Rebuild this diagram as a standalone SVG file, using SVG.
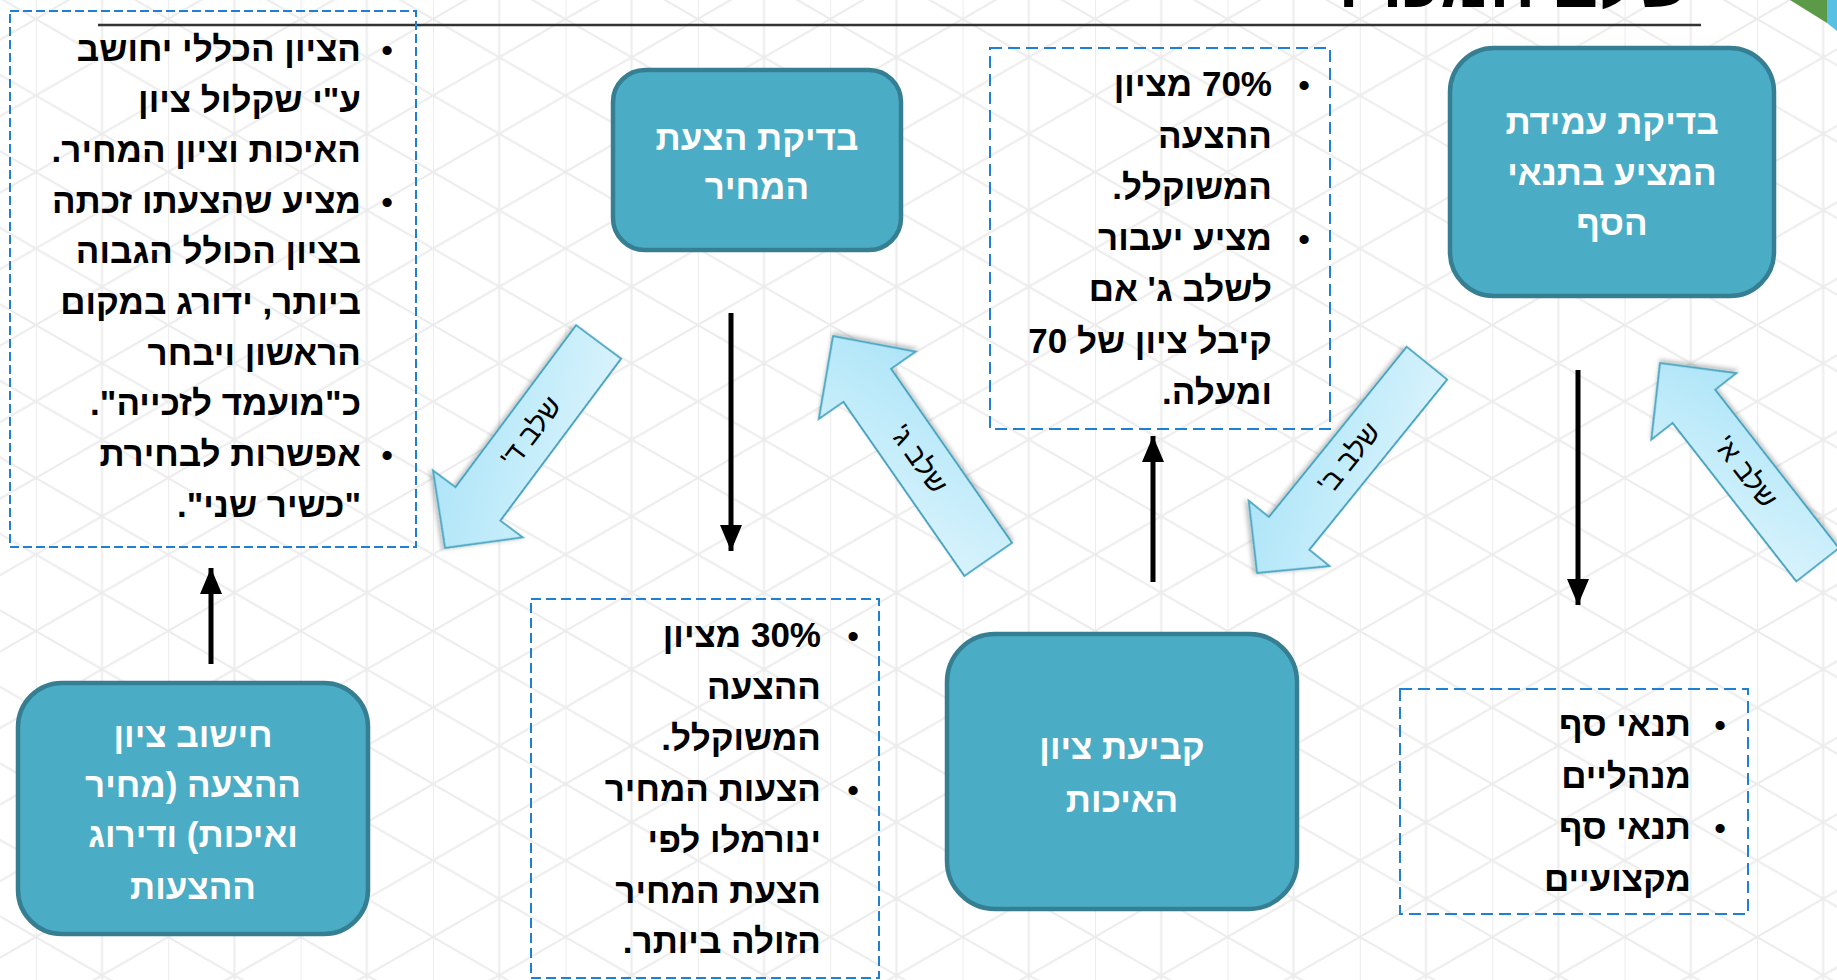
<svg xmlns="http://www.w3.org/2000/svg" width="1837" height="980" viewBox="0 0 1837 980">
<style>
.bt{font-family:"Liberation Sans","DejaVu Sans",sans-serif;font-weight:bold;font-size:35px;fill:#000;direction:rtl;text-anchor:start}
.bul{font-family:"Liberation Sans","DejaVu Sans",sans-serif;font-weight:bold;font-size:32px;fill:#000;text-anchor:middle}
.nt{font-family:"Liberation Sans","DejaVu Sans",sans-serif;font-weight:bold;font-size:35px;fill:#fff;direction:rtl;text-anchor:middle}
.at{font-family:"Liberation Sans","DejaVu Sans",sans-serif;font-size:28px;fill:#000;direction:rtl;text-anchor:middle;dominant-baseline:central}
.node{fill:#4bacc6;stroke:#367e92;stroke-width:4.5}
.dbox{fill:none;stroke:#1f7fd0;stroke-width:2}
.blk{fill:url(#bg);stroke:#4aa6c2;stroke-width:1.8;filter:url(#sh)}
.conn{stroke:#000;stroke-width:5;fill:none;marker-end:url(#ah)}
</style>
<defs>
<pattern id="grid" patternUnits="userSpaceOnUse" x="35.8" y="19" width="132.4" height="76.5">
<path d="M0 0V76.5M66.2 0V76.5M0 0L132.4 76.5M0 76.5L132.4 0" stroke="#ececec" stroke-width="2" fill="none"/>
</pattern>
<linearGradient id="bg" x1="0" y1="0" x2="1" y2="1">
<stop offset="0" stop-color="#def5fd"/>
<stop offset="1" stop-color="#a8e3f7"/>
</linearGradient>
<filter id="sh" x="-20%" y="-20%" width="140%" height="140%">
<feDropShadow dx="2" dy="2" stdDeviation="2" flood-color="#000" flood-opacity="0.25"/>
</filter>
<marker id="ah" markerUnits="userSpaceOnUse" markerWidth="30" markerHeight="26" refX="26" refY="11" orient="auto">
<path d="M0 0L26 11L0 22Z" fill="#000"/>
</marker>
</defs>
<rect width="1837" height="980" fill="#fff"/>
<rect width="1837" height="980" fill="url(#grid)"/>

<g id="title">
<line x1="98" y1="25" x2="1701" y2="25" stroke="#333" stroke-width="2.5"/>
<text x="1690" y="7" style="font-family:'Liberation Sans','DejaVu Sans',sans-serif;font-weight:bold;font-size:68px;direction:rtl;text-anchor:start" fill="#000">שלב המכרז</text>
<polygon points="1790,0 1827,0 1827,23" fill="#5b9a46"/>
<polygon points="1827,0 1837,0 1837,31 1827,23" fill="#59bfe4"/>
</g>

<g id="connectors">
<line class="conn" x1="1578" y1="370" x2="1578" y2="605"/>
<line class="conn" x1="731" y1="313" x2="731" y2="551"/>
<line class="conn" x1="1153" y1="582" x2="1153" y2="436"/>
<line class="conn" x1="211" y1="664" x2="211" y2="568"/>
<g id="arrow-a">
<path class="blk" transform="translate(1660,363) rotate(-128)" d="M0 0L-55 -54L-55 -27L-256 -27L-256 27L-55 27L-55 54Z"/>
<text class="at" transform="translate(1746,472) rotate(52)">שלב א'</text>
</g>
<g id="arrow-b">
<path class="blk" transform="translate(1257,573) rotate(129)" d="M0 0L-51 -52L-51 -26L-270 -26L-270 26L-51 26L-51 52Z"/>
<text class="at" transform="translate(1349,458) rotate(-51)">שלב ב'</text>
</g>
<g id="arrow-c">
<path class="blk" transform="translate(833,336) rotate(-124.8)" d="M0 0L-60 -59L-60 -29L-272 -29L-272 29L-60 29L-60 59Z"/>
<text class="at" transform="translate(919,459) rotate(55)">שלב ג'</text>
</g>
<g id="arrow-d">
<path class="blk" transform="translate(445,548) rotate(126.7)" d="M0 0L-55 -56L-55 -28L-257 -28L-257 28L-55 28L-55 56Z"/>
<text class="at" transform="translate(531,432) rotate(-53)">שלב ד'</text>
</g>
</g>

<g id="node-threshold">
<rect class="node" x="1450" y="48" width="324" height="248" rx="44"/>
<text class="nt" x="1612" y="134">בדיקת עמידת</text>
<text class="nt" x="1612" y="185">המציע בתנאי</text>
<text class="nt" x="1612" y="235">הסף</text>
</g>

<g id="node-price">
<rect class="node" x="613" y="70" width="288" height="180" rx="32"/>
<text class="nt" x="757" y="150">בדיקת הצעת</text>
<text class="nt" x="757" y="199">המחיר</text>
</g>

<g id="node-quality">
<rect class="node" x="947" y="634" width="350" height="275" rx="48"/>
<text class="nt" x="1122" y="759">קביעת ציון</text>
<text class="nt" x="1122" y="812">האיכות</text>
</g>

<g id="node-ranking">
<rect class="node" x="18" y="683" width="350" height="251" rx="44"/>
<text class="nt" x="193" y="747">חישוב ציון</text>
<text class="nt" x="193" y="797">ההצעה (מחיר</text>
<text class="nt" x="193" y="847">ואיכות) ודירוג</text>
<text class="nt" x="193" y="899">ההצעות</text>
</g>

<g id="box-threshold">
<rect class="dbox" x="1400" y="689" width="348" height="225" stroke-dasharray="12 6" stroke-width="2.5"/>
<text class="bul" x="1720" y="736">•</text>
<text class="bt" x="1691" y="736">תנאי סף</text>
<text class="bt" x="1691" y="788">מנהליים</text>
<text class="bul" x="1720" y="839">•</text>
<text class="bt" x="1691" y="839">תנאי סף</text>
<text class="bt" x="1691" y="891">מקצועיים</text>
</g>

<g id="box-quality">
<rect class="dbox" x="990" y="48" width="340" height="381" stroke-dasharray="12 6"/>
<text class="bul" x="1304" y="96">•</text>
<text class="bt" x="1272" y="96">70% מציון</text>
<text class="bt" x="1272" y="148">ההצעה</text>
<text class="bt" x="1272" y="199">המשוקלל.</text>
<text class="bul" x="1304" y="250">•</text>
<text class="bt" x="1272" y="250">מציע יעבור</text>
<text class="bt" x="1272" y="301">לשלב ג' אם</text>
<text class="bt" x="1272" y="353">קיבל ציון של 70</text>
<text class="bt" x="1272" y="404">ומעלה.</text>
</g>

<g id="box-price">
<rect class="dbox" x="531" y="599" width="348" height="379" stroke-dasharray="10 5" stroke-width="1.8"/>
<text class="bul" x="853" y="647">•</text>
<text class="bt" x="821" y="647">30% מציון</text>
<text class="bt" x="821" y="699">ההצעה</text>
<text class="bt" x="821" y="750">המשוקלל.</text>
<text class="bul" x="853" y="801">•</text>
<text class="bt" x="821" y="801">הצעות המחיר</text>
<text class="bt" x="821" y="852">ינורמלו לפי</text>
<text class="bt" x="821" y="903">הצעת המחיר</text>
<text class="bt" x="821" y="953">הזולה ביותר.</text>
</g>

<g id="box-ranking">
<rect class="dbox" x="10" y="11" width="406" height="536" stroke-dasharray="9 4" stroke-width="1.6"/>
<text class="bul" x="387" y="61">•</text>
<text class="bt" x="361" y="61">הציון הכללי יחושב</text>
<text class="bt" x="361" y="112">ע"י שקלול ציון</text>
<text class="bt" x="361" y="162">האיכות וציון המחיר.</text>
<text class="bul" x="387" y="213">•</text>
<text class="bt" x="361" y="213">מציע שהצעתו זכתה</text>
<text class="bt" x="361" y="263">בציון הכולל הגבוה</text>
<text class="bt" x="361" y="314">ביותר, ידורג במקום</text>
<text class="bt" x="361" y="365">הראשון ויבחר</text>
<text class="bt" x="361" y="415">כ"מועמד לזכייה".</text>
<text class="bul" x="387" y="466">•</text>
<text class="bt" x="361" y="466">אפשרות לבחירת</text>
<text class="bt" x="361" y="517">"כשיר שני".</text>
</g>
</svg>
